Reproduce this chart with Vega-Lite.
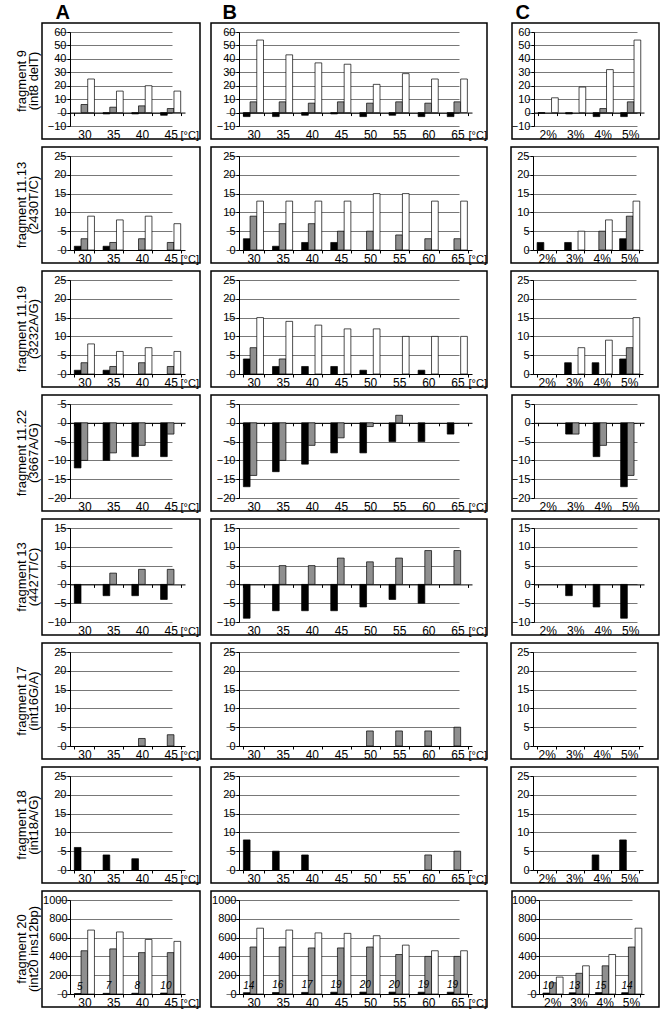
{
"$schema":"https://vega.github.io/schema/vega-lite/v6.json",
"padding":{"left":15,"top":1,"right":0,"bottom":0},
"data":{"name":"d"},
"datasets":{"d":[
{"r":1,"p":"A","c":"30","s":"s2","v":6},{"r":1,"p":"A","c":"30","s":"s3","v":25},
{"r":1,"p":"A","c":"35","s":"s1","v":-1},{"r":1,"p":"A","c":"35","s":"s2","v":4},{"r":1,"p":"A","c":"35","s":"s3","v":16},
{"r":1,"p":"A","c":"40","s":"s1","v":-1},{"r":1,"p":"A","c":"40","s":"s2","v":5},{"r":1,"p":"A","c":"40","s":"s3","v":20},
{"r":1,"p":"A","c":"45","s":"s1","v":-2},{"r":1,"p":"A","c":"45","s":"s2","v":3},{"r":1,"p":"A","c":"45","s":"s3","v":16},
{"r":1,"p":"B","c":"30","s":"s1","v":-3},{"r":1,"p":"B","c":"30","s":"s2","v":8},{"r":1,"p":"B","c":"30","s":"s3","v":54},
{"r":1,"p":"B","c":"35","s":"s1","v":-3},{"r":1,"p":"B","c":"35","s":"s2","v":8},{"r":1,"p":"B","c":"35","s":"s3","v":43},
{"r":1,"p":"B","c":"40","s":"s1","v":-2},{"r":1,"p":"B","c":"40","s":"s2","v":7},{"r":1,"p":"B","c":"40","s":"s3","v":37},
{"r":1,"p":"B","c":"45","s":"s1","v":-1},{"r":1,"p":"B","c":"45","s":"s2","v":8},{"r":1,"p":"B","c":"45","s":"s3","v":36},
{"r":1,"p":"B","c":"50","s":"s1","v":-3},{"r":1,"p":"B","c":"50","s":"s2","v":7},{"r":1,"p":"B","c":"50","s":"s3","v":21},
{"r":1,"p":"B","c":"55","s":"s1","v":-2},{"r":1,"p":"B","c":"55","s":"s2","v":8},{"r":1,"p":"B","c":"55","s":"s3","v":29},
{"r":1,"p":"B","c":"60","s":"s1","v":-3},{"r":1,"p":"B","c":"60","s":"s2","v":7},{"r":1,"p":"B","c":"60","s":"s3","v":25},
{"r":1,"p":"B","c":"65","s":"s1","v":-3},{"r":1,"p":"B","c":"65","s":"s2","v":8},{"r":1,"p":"B","c":"65","s":"s3","v":25},
{"r":1,"p":"C","c":"2%","s":"s1","v":-0.5},{"r":1,"p":"C","c":"2%","s":"s3","v":11},
{"r":1,"p":"C","c":"3%","s":"s1","v":-1},{"r":1,"p":"C","c":"3%","s":"s3","v":19},
{"r":1,"p":"C","c":"4%","s":"s1","v":-3},{"r":1,"p":"C","c":"4%","s":"s2","v":3},{"r":1,"p":"C","c":"4%","s":"s3","v":32},
{"r":1,"p":"C","c":"5%","s":"s1","v":-3},{"r":1,"p":"C","c":"5%","s":"s2","v":8},{"r":1,"p":"C","c":"5%","s":"s3","v":54},
{"r":2,"p":"A","c":"30","s":"s1","v":1},{"r":2,"p":"A","c":"30","s":"s2","v":3},{"r":2,"p":"A","c":"30","s":"s3","v":9},
{"r":2,"p":"A","c":"35","s":"s1","v":1},{"r":2,"p":"A","c":"35","s":"s2","v":2},{"r":2,"p":"A","c":"35","s":"s3","v":8},
{"r":2,"p":"A","c":"40","s":"s2","v":3},{"r":2,"p":"A","c":"40","s":"s3","v":9},
{"r":2,"p":"A","c":"45","s":"s2","v":2},{"r":2,"p":"A","c":"45","s":"s3","v":7},
{"r":2,"p":"B","c":"30","s":"s1","v":3},{"r":2,"p":"B","c":"30","s":"s2","v":9},{"r":2,"p":"B","c":"30","s":"s3","v":13},
{"r":2,"p":"B","c":"35","s":"s1","v":1},{"r":2,"p":"B","c":"35","s":"s2","v":7},{"r":2,"p":"B","c":"35","s":"s3","v":13},
{"r":2,"p":"B","c":"40","s":"s1","v":2},{"r":2,"p":"B","c":"40","s":"s2","v":7},{"r":2,"p":"B","c":"40","s":"s3","v":13},
{"r":2,"p":"B","c":"45","s":"s1","v":2},{"r":2,"p":"B","c":"45","s":"s2","v":5},{"r":2,"p":"B","c":"45","s":"s3","v":13},
{"r":2,"p":"B","c":"50","s":"s2","v":5},{"r":2,"p":"B","c":"50","s":"s3","v":15},
{"r":2,"p":"B","c":"55","s":"s2","v":4},{"r":2,"p":"B","c":"55","s":"s3","v":15},
{"r":2,"p":"B","c":"60","s":"s2","v":3},{"r":2,"p":"B","c":"60","s":"s3","v":13},
{"r":2,"p":"B","c":"65","s":"s2","v":3},{"r":2,"p":"B","c":"65","s":"s3","v":13},
{"r":2,"p":"C","c":"2%","s":"s1","v":2},
{"r":2,"p":"C","c":"3%","s":"s1","v":2},{"r":2,"p":"C","c":"3%","s":"s3","v":5},
{"r":2,"p":"C","c":"4%","s":"s2","v":5},{"r":2,"p":"C","c":"4%","s":"s3","v":8},
{"r":2,"p":"C","c":"5%","s":"s1","v":3},{"r":2,"p":"C","c":"5%","s":"s2","v":9},{"r":2,"p":"C","c":"5%","s":"s3","v":13},
{"r":3,"p":"A","c":"30","s":"s1","v":1},{"r":3,"p":"A","c":"30","s":"s2","v":3},{"r":3,"p":"A","c":"30","s":"s3","v":8},
{"r":3,"p":"A","c":"35","s":"s1","v":1},{"r":3,"p":"A","c":"35","s":"s2","v":2},{"r":3,"p":"A","c":"35","s":"s3","v":6},
{"r":3,"p":"A","c":"40","s":"s2","v":3},{"r":3,"p":"A","c":"40","s":"s3","v":7},
{"r":3,"p":"A","c":"45","s":"s2","v":2},{"r":3,"p":"A","c":"45","s":"s3","v":6},
{"r":3,"p":"B","c":"30","s":"s1","v":4},{"r":3,"p":"B","c":"30","s":"s2","v":7},{"r":3,"p":"B","c":"30","s":"s3","v":15},
{"r":3,"p":"B","c":"35","s":"s1","v":2},{"r":3,"p":"B","c":"35","s":"s2","v":4},{"r":3,"p":"B","c":"35","s":"s3","v":14},
{"r":3,"p":"B","c":"40","s":"s1","v":2},{"r":3,"p":"B","c":"40","s":"s3","v":13},
{"r":3,"p":"B","c":"45","s":"s1","v":2},{"r":3,"p":"B","c":"45","s":"s3","v":12},
{"r":3,"p":"B","c":"50","s":"s1","v":1},{"r":3,"p":"B","c":"50","s":"s3","v":12},
{"r":3,"p":"B","c":"55","s":"s3","v":10},
{"r":3,"p":"B","c":"60","s":"s1","v":1},{"r":3,"p":"B","c":"60","s":"s3","v":10},
{"r":3,"p":"B","c":"65","s":"s3","v":10},
{"r":3,"p":"C","c":"3%","s":"s1","v":3},{"r":3,"p":"C","c":"3%","s":"s3","v":7},
{"r":3,"p":"C","c":"4%","s":"s1","v":3},{"r":3,"p":"C","c":"4%","s":"s3","v":9},
{"r":3,"p":"C","c":"5%","s":"s1","v":4},{"r":3,"p":"C","c":"5%","s":"s2","v":7},{"r":3,"p":"C","c":"5%","s":"s3","v":15},
{"r":4,"p":"A","c":"30","s":"s1","v":-12},{"r":4,"p":"A","c":"30","s":"s2","v":-10},
{"r":4,"p":"A","c":"35","s":"s1","v":-10},{"r":4,"p":"A","c":"35","s":"s2","v":-8},
{"r":4,"p":"A","c":"40","s":"s1","v":-9},{"r":4,"p":"A","c":"40","s":"s2","v":-6},
{"r":4,"p":"A","c":"45","s":"s1","v":-9},{"r":4,"p":"A","c":"45","s":"s2","v":-3},
{"r":4,"p":"B","c":"30","s":"s1","v":-17},{"r":4,"p":"B","c":"30","s":"s2","v":-14},
{"r":4,"p":"B","c":"35","s":"s1","v":-13},{"r":4,"p":"B","c":"35","s":"s2","v":-10},
{"r":4,"p":"B","c":"40","s":"s1","v":-11},{"r":4,"p":"B","c":"40","s":"s2","v":-6},
{"r":4,"p":"B","c":"45","s":"s1","v":-8},{"r":4,"p":"B","c":"45","s":"s2","v":-4},
{"r":4,"p":"B","c":"50","s":"s1","v":-8},{"r":4,"p":"B","c":"50","s":"s2","v":-1},
{"r":4,"p":"B","c":"55","s":"s1","v":-5},{"r":4,"p":"B","c":"55","s":"s2","v":2},
{"r":4,"p":"B","c":"60","s":"s1","v":-5},
{"r":4,"p":"B","c":"65","s":"s1","v":-3},
{"r":4,"p":"C","c":"3%","s":"s1","v":-3},{"r":4,"p":"C","c":"3%","s":"s2","v":-3},
{"r":4,"p":"C","c":"4%","s":"s1","v":-9},{"r":4,"p":"C","c":"4%","s":"s2","v":-6},
{"r":4,"p":"C","c":"5%","s":"s1","v":-17},{"r":4,"p":"C","c":"5%","s":"s2","v":-14},
{"r":5,"p":"A","c":"30","s":"s1","v":-5},
{"r":5,"p":"A","c":"35","s":"s1","v":-3},{"r":5,"p":"A","c":"35","s":"s2","v":3},
{"r":5,"p":"A","c":"40","s":"s1","v":-3},{"r":5,"p":"A","c":"40","s":"s2","v":4},
{"r":5,"p":"A","c":"45","s":"s1","v":-4},{"r":5,"p":"A","c":"45","s":"s2","v":4},
{"r":5,"p":"B","c":"30","s":"s1","v":-9},
{"r":5,"p":"B","c":"35","s":"s1","v":-7},{"r":5,"p":"B","c":"35","s":"s2","v":5},
{"r":5,"p":"B","c":"40","s":"s1","v":-7},{"r":5,"p":"B","c":"40","s":"s2","v":5},
{"r":5,"p":"B","c":"45","s":"s1","v":-7},{"r":5,"p":"B","c":"45","s":"s2","v":7},
{"r":5,"p":"B","c":"50","s":"s1","v":-6},{"r":5,"p":"B","c":"50","s":"s2","v":6},
{"r":5,"p":"B","c":"55","s":"s1","v":-4},{"r":5,"p":"B","c":"55","s":"s2","v":7},
{"r":5,"p":"B","c":"60","s":"s1","v":-5},{"r":5,"p":"B","c":"60","s":"s2","v":9},
{"r":5,"p":"B","c":"65","s":"s2","v":9},
{"r":5,"p":"C","c":"3%","s":"s1","v":-3},
{"r":5,"p":"C","c":"4%","s":"s1","v":-6},
{"r":5,"p":"C","c":"5%","s":"s1","v":-9},
{"r":6,"p":"A","c":"40","s":"s2","v":2},{"r":6,"p":"A","c":"45","s":"s2","v":3},
{"r":6,"p":"B","c":"50","s":"s2","v":4},{"r":6,"p":"B","c":"55","s":"s2","v":4},
{"r":6,"p":"B","c":"60","s":"s2","v":4},{"r":6,"p":"B","c":"65","s":"s2","v":5},
{"r":7,"p":"A","c":"30","s":"s1","v":6},{"r":7,"p":"A","c":"35","s":"s1","v":4},{"r":7,"p":"A","c":"40","s":"s1","v":3},
{"r":7,"p":"B","c":"30","s":"s1","v":8},{"r":7,"p":"B","c":"35","s":"s1","v":5},{"r":7,"p":"B","c":"40","s":"s1","v":4},
{"r":7,"p":"B","c":"60","s":"s2","v":4},{"r":7,"p":"B","c":"65","s":"s2","v":5},
{"r":7,"p":"C","c":"4%","s":"s1","v":4},{"r":7,"p":"C","c":"5%","s":"s1","v":8},
{"r":8,"p":"A","c":"30","s":"s1","v":5},{"r":8,"p":"A","c":"30","s":"s2","v":460},{"r":8,"p":"A","c":"30","s":"s3","v":680},
{"r":8,"p":"A","c":"35","s":"s1","v":7},{"r":8,"p":"A","c":"35","s":"s2","v":480},{"r":8,"p":"A","c":"35","s":"s3","v":660},
{"r":8,"p":"A","c":"40","s":"s1","v":8},{"r":8,"p":"A","c":"40","s":"s2","v":440},{"r":8,"p":"A","c":"40","s":"s3","v":580},
{"r":8,"p":"A","c":"45","s":"s1","v":10},{"r":8,"p":"A","c":"45","s":"s2","v":440},{"r":8,"p":"A","c":"45","s":"s3","v":560},
{"r":8,"p":"B","c":"30","s":"s1","v":14},{"r":8,"p":"B","c":"30","s":"s2","v":500},{"r":8,"p":"B","c":"30","s":"s3","v":700},
{"r":8,"p":"B","c":"35","s":"s1","v":16},{"r":8,"p":"B","c":"35","s":"s2","v":500},{"r":8,"p":"B","c":"35","s":"s3","v":680},
{"r":8,"p":"B","c":"40","s":"s1","v":17},{"r":8,"p":"B","c":"40","s":"s2","v":490},{"r":8,"p":"B","c":"40","s":"s3","v":650},
{"r":8,"p":"B","c":"45","s":"s1","v":19},{"r":8,"p":"B","c":"45","s":"s2","v":490},{"r":8,"p":"B","c":"45","s":"s3","v":645},
{"r":8,"p":"B","c":"50","s":"s1","v":20},{"r":8,"p":"B","c":"50","s":"s2","v":500},{"r":8,"p":"B","c":"50","s":"s3","v":620},
{"r":8,"p":"B","c":"55","s":"s1","v":20},{"r":8,"p":"B","c":"55","s":"s2","v":420},{"r":8,"p":"B","c":"55","s":"s3","v":520},
{"r":8,"p":"B","c":"60","s":"s1","v":19},{"r":8,"p":"B","c":"60","s":"s2","v":400},{"r":8,"p":"B","c":"60","s":"s3","v":460},
{"r":8,"p":"B","c":"65","s":"s1","v":19},{"r":8,"p":"B","c":"65","s":"s2","v":400},{"r":8,"p":"B","c":"65","s":"s3","v":460},
{"r":8,"p":"C","c":"2%","s":"s1","v":10},{"r":8,"p":"C","c":"2%","s":"s2","v":120},{"r":8,"p":"C","c":"2%","s":"s3","v":180},
{"r":8,"p":"C","c":"3%","s":"s1","v":13},{"r":8,"p":"C","c":"3%","s":"s2","v":220},{"r":8,"p":"C","c":"3%","s":"s3","v":300},
{"r":8,"p":"C","c":"4%","s":"s1","v":15},{"r":8,"p":"C","c":"4%","s":"s2","v":300},{"r":8,"p":"C","c":"4%","s":"s3","v":420},
{"r":8,"p":"C","c":"5%","s":"s1","v":14},{"r":8,"p":"C","c":"5%","s":"s2","v":500},{"r":8,"p":"C","c":"5%","s":"s3","v":700}
]},
"spacing":5,
"vconcat":[
{"spacing":22,"hconcat":[{"spacing":9,"hconcat":[
  {"width":158,"height":116,"title":{"text":["fragment 9","(int8 delT)"]},"transform":[{"filter":"datum.r==1&&datum.p=='A'"}],
   "encoding":{"x":{"field":"c","type":"nominal","scale":{"domain":["30","35","40","45"],"range":[28,143],"paddingInner":0.3,"paddingOuter":0.15},"axis":{"offset":-26.43,"labelPadding":13.43,"title":"[°C]","titleX":138,"titleY":16.43}},"xOffset":{"field":"s","type":"nominal","scale":{"domain":["s1","s2","s3"]}}},
   "layer":[{"mark":"bar","encoding":{"y":{"field":"v","type":"quantitative","scale":{"domain":[-10,60],"range":[103,9],"nice":false},"axis":{"values":[-10,0,10,20,30,40,50,60],"title":null}},"fill":{"field":"s","type":"nominal","scale":{"domain":["s1","s2","s3"],"range":["#000000","#8f8f8f","#ffffff"]},"legend":null}}},
    {"transform":[{"filter":"datum.r==8&&datum.s=='s1'"}],"mark":"text","encoding":{"x":{"field":"c","type":"nominal","scale":{"domain":["30","35","40","45"],"range":[28,143],"paddingInner":0.3,"paddingOuter":0.15},"axis":{"orient":"top","title":"A","titleX":13,"titleY":-5}},"y":{"field":"v","type":"quantitative","scale":{"domain":[-10,60],"range":[103,9],"nice":false},"axis":{"orient":"right","title":null,"grid":true,"values":[-10,0,10,20,30,40,50,60]}},"text":{"field":"v"}}}],
   "resolve":{"axis":{"y":"independent","x":"independent"}}},
  {"width":276,"height":116,"transform":[{"filter":"datum.r==1&&datum.p=='B'"}],
   "encoding":{"x":{"field":"c","type":"nominal","scale":{"domain":["30","35","40","45","50","55","60","65"],"range":[28,261],"paddingInner":0.3,"paddingOuter":0.15},"axis":{"offset":-26.43,"labelPadding":13.43,"title":"[°C]","titleX":257,"titleY":16.43}},"xOffset":{"field":"s","type":"nominal","scale":{"domain":["s1","s2","s3"]}}},
   "layer":[{"mark":"bar","encoding":{"y":{"field":"v","type":"quantitative","scale":{"domain":[-10,60],"range":[103,9],"nice":false},"axis":{"values":[-10,0,10,20,30,40,50,60],"title":null}},"fill":{"field":"s","type":"nominal","scale":{"domain":["s1","s2","s3"],"range":["#000000","#8f8f8f","#ffffff"]},"legend":null}}},
    {"transform":[{"filter":"datum.r==8&&datum.s=='s1'"}],"mark":"text","encoding":{"x":{"field":"c","type":"nominal","scale":{"domain":["30","35","40","45","50","55","60","65"],"range":[28,261],"paddingInner":0.3,"paddingOuter":0.15},"axis":{"orient":"top","title":"B","titleX":11,"titleY":-5}},"y":{"field":"v","type":"quantitative","scale":{"domain":[-10,60],"range":[103,9],"nice":false},"axis":{"orient":"right","title":null,"grid":true,"values":[-10,0,10,20,30,40,50,60]}},"text":{"field":"v"}}}],
   "resolve":{"axis":{"y":"independent","x":"independent"}}}]},
  {"width":147,"height":116,"transform":[{"filter":"datum.r==1&&datum.p=='C'"}],
   "encoding":{"x":{"field":"c","type":"nominal","scale":{"domain":["2%","3%","4%","5%"],"range":[22,132],"paddingInner":0.3,"paddingOuter":0.15},"axis":{"offset":-26.43,"labelPadding":13.43,"title":null}},"xOffset":{"field":"s","type":"nominal","scale":{"domain":["s1","s2","s3"]}}},
   "layer":[{"mark":"bar","encoding":{"y":{"field":"v","type":"quantitative","scale":{"domain":[-10,60],"range":[103,9],"nice":false},"axis":{"values":[-10,0,10,20,30,40,50,60],"title":null,"offset":-22}},"fill":{"field":"s","type":"nominal","scale":{"domain":["s1","s2","s3"],"range":["#000000","#8f8f8f","#ffffff"]},"legend":null}}},
    {"transform":[{"filter":"datum.r==8&&datum.s=='s1'"}],"mark":"text","encoding":{"x":{"field":"c","type":"nominal","scale":{"domain":["2%","3%","4%","5%"],"range":[22,132],"paddingInner":0.3,"paddingOuter":0.15},"axis":{"orient":"top","title":"C","titleX":3,"titleY":-5}},"y":{"field":"v","type":"quantitative","scale":{"domain":[-10,60],"range":[103,9],"nice":false},"axis":{"orient":"right","title":null,"grid":true,"values":[-10,0,10,20,30,40,50,60]}},"text":{"field":"v"}}}],
   "resolve":{"axis":{"y":"independent","x":"independent"}}}]},

{"spacing":22,"hconcat":[{"spacing":9,"hconcat":[
  {"width":158,"height":116,"title":{"text":["fragment 11.13","(2430T/C)"]},"transform":[{"filter":"datum.r==2&&datum.p=='A'"}],
   "encoding":{"x":{"field":"c","type":"nominal","scale":{"domain":["30","35","40","45"],"range":[28,143],"paddingInner":0.3,"paddingOuter":0.15},"axis":{"offset":-13,"labelPadding":0,"title":"[°C]","titleX":138,"titleY":3}},"xOffset":{"field":"s","type":"nominal","scale":{"domain":["s1","s2","s3"]}}},
   "layer":[{"mark":"bar","encoding":{"y":{"field":"v","type":"quantitative","scale":{"domain":[0,25],"range":[103,9],"nice":false},"axis":{"values":[0,5,10,15,20,25],"title":null}},"fill":{"field":"s","type":"nominal","scale":{"domain":["s1","s2","s3"],"range":["#000000","#8f8f8f","#ffffff"]},"legend":null}}},
    {"transform":[{"filter":"datum.r==8&&datum.s=='s1'"}],"mark":"text","encoding":{"y":{"field":"v","type":"quantitative","scale":{"domain":[0,25],"range":[103,9],"nice":false},"axis":{"orient":"right","title":null,"grid":true,"values":[0,5,10,15,20,25]}},"text":{"field":"v"}}}],
   "resolve":{"axis":{"y":"independent"}}},
  {"width":276,"height":116,"transform":[{"filter":"datum.r==2&&datum.p=='B'"}],
   "encoding":{"x":{"field":"c","type":"nominal","scale":{"domain":["30","35","40","45","50","55","60","65"],"range":[28,261],"paddingInner":0.3,"paddingOuter":0.15},"axis":{"offset":-13,"labelPadding":0,"title":"[°C]","titleX":257,"titleY":3}},"xOffset":{"field":"s","type":"nominal","scale":{"domain":["s1","s2","s3"]}}},
   "layer":[{"mark":"bar","encoding":{"y":{"field":"v","type":"quantitative","scale":{"domain":[0,25],"range":[103,9],"nice":false},"axis":{"values":[0,5,10,15,20,25],"title":null}},"fill":{"field":"s","type":"nominal","scale":{"domain":["s1","s2","s3"],"range":["#000000","#8f8f8f","#ffffff"]},"legend":null}}},
    {"transform":[{"filter":"datum.r==8&&datum.s=='s1'"}],"mark":"text","encoding":{"y":{"field":"v","type":"quantitative","scale":{"domain":[0,25],"range":[103,9],"nice":false},"axis":{"orient":"right","title":null,"grid":true,"values":[0,5,10,15,20,25]}},"text":{"field":"v"}}}],
   "resolve":{"axis":{"y":"independent"}}}]},
  {"width":147,"height":116,"transform":[{"filter":"datum.r==2&&datum.p=='C'"}],
   "encoding":{"x":{"field":"c","type":"nominal","scale":{"domain":["2%","3%","4%","5%"],"range":[22,132],"paddingInner":0.3,"paddingOuter":0.15},"axis":{"offset":-13,"labelPadding":0,"title":null}},"xOffset":{"field":"s","type":"nominal","scale":{"domain":["s1","s2","s3"]}}},
   "layer":[{"mark":"bar","encoding":{"y":{"field":"v","type":"quantitative","scale":{"domain":[0,25],"range":[103,9],"nice":false},"axis":{"values":[0,5,10,15,20,25],"title":null,"offset":-22}},"fill":{"field":"s","type":"nominal","scale":{"domain":["s1","s2","s3"],"range":["#000000","#8f8f8f","#ffffff"]},"legend":null}}},
    {"transform":[{"filter":"datum.r==8&&datum.s=='s1'"}],"mark":"text","encoding":{"y":{"field":"v","type":"quantitative","scale":{"domain":[0,25],"range":[103,9],"nice":false},"axis":{"orient":"right","title":null,"grid":true,"values":[0,5,10,15,20,25]}},"text":{"field":"v"}}}],
   "resolve":{"axis":{"y":"independent"}}}]},

{"spacing":22,"hconcat":[{"spacing":9,"hconcat":[
  {"width":158,"height":116,"title":{"text":["fragment 11.19","(3232A/G)"]},"transform":[{"filter":"datum.r==3&&datum.p=='A'"}],
   "encoding":{"x":{"field":"c","type":"nominal","scale":{"domain":["30","35","40","45"],"range":[28,143],"paddingInner":0.3,"paddingOuter":0.15},"axis":{"offset":-13,"labelPadding":0,"title":"[°C]","titleX":138,"titleY":3}},"xOffset":{"field":"s","type":"nominal","scale":{"domain":["s1","s2","s3"]}}},
   "layer":[{"mark":"bar","encoding":{"y":{"field":"v","type":"quantitative","scale":{"domain":[0,25],"range":[103,9],"nice":false},"axis":{"values":[0,5,10,15,20,25],"title":null}},"fill":{"field":"s","type":"nominal","scale":{"domain":["s1","s2","s3"],"range":["#000000","#8f8f8f","#ffffff"]},"legend":null}}},
    {"transform":[{"filter":"datum.r==8&&datum.s=='s1'"}],"mark":"text","encoding":{"y":{"field":"v","type":"quantitative","scale":{"domain":[0,25],"range":[103,9],"nice":false},"axis":{"orient":"right","title":null,"grid":true,"values":[0,5,10,15,20,25]}},"text":{"field":"v"}}}],
   "resolve":{"axis":{"y":"independent"}}},
  {"width":276,"height":116,"transform":[{"filter":"datum.r==3&&datum.p=='B'"}],
   "encoding":{"x":{"field":"c","type":"nominal","scale":{"domain":["30","35","40","45","50","55","60","65"],"range":[28,261],"paddingInner":0.3,"paddingOuter":0.15},"axis":{"offset":-13,"labelPadding":0,"title":"[°C]","titleX":257,"titleY":3}},"xOffset":{"field":"s","type":"nominal","scale":{"domain":["s1","s2","s3"]}}},
   "layer":[{"mark":"bar","encoding":{"y":{"field":"v","type":"quantitative","scale":{"domain":[0,25],"range":[103,9],"nice":false},"axis":{"values":[0,5,10,15,20,25],"title":null}},"fill":{"field":"s","type":"nominal","scale":{"domain":["s1","s2","s3"],"range":["#000000","#8f8f8f","#ffffff"]},"legend":null}}},
    {"transform":[{"filter":"datum.r==8&&datum.s=='s1'"}],"mark":"text","encoding":{"y":{"field":"v","type":"quantitative","scale":{"domain":[0,25],"range":[103,9],"nice":false},"axis":{"orient":"right","title":null,"grid":true,"values":[0,5,10,15,20,25]}},"text":{"field":"v"}}}],
   "resolve":{"axis":{"y":"independent"}}}]},
  {"width":147,"height":116,"transform":[{"filter":"datum.r==3&&datum.p=='C'"}],
   "encoding":{"x":{"field":"c","type":"nominal","scale":{"domain":["2%","3%","4%","5%"],"range":[22,132],"paddingInner":0.3,"paddingOuter":0.15},"axis":{"offset":-13,"labelPadding":0,"title":null}},"xOffset":{"field":"s","type":"nominal","scale":{"domain":["s1","s2","s3"]}}},
   "layer":[{"mark":"bar","encoding":{"y":{"field":"v","type":"quantitative","scale":{"domain":[0,25],"range":[103,9],"nice":false},"axis":{"values":[0,5,10,15,20,25],"title":null,"offset":-22}},"fill":{"field":"s","type":"nominal","scale":{"domain":["s1","s2","s3"],"range":["#000000","#8f8f8f","#ffffff"]},"legend":null}}},
    {"transform":[{"filter":"datum.r==8&&datum.s=='s1'"}],"mark":"text","encoding":{"y":{"field":"v","type":"quantitative","scale":{"domain":[0,25],"range":[103,9],"nice":false},"axis":{"orient":"right","title":null,"grid":true,"values":[0,5,10,15,20,25]}},"text":{"field":"v"}}}],
   "resolve":{"axis":{"y":"independent"}}}]},

{"spacing":22,"hconcat":[{"spacing":9,"hconcat":[
  {"width":158,"height":116,"title":{"text":["fragment 11.22","(3667A/G)"]},"transform":[{"filter":"datum.r==4&&datum.p=='A'"}],
   "encoding":{"x":{"field":"c","type":"nominal","scale":{"domain":["30","35","40","45"],"range":[28,143],"paddingInner":0.3,"paddingOuter":0.15},"axis":{"offset":-88.2,"labelPadding":75.2,"title":"[°C]","titleX":138,"titleY":78.2}},"xOffset":{"field":"s","type":"nominal","scale":{"domain":["s1","s2","s3"]}}},
   "layer":[{"mark":"bar","encoding":{"y":{"field":"v","type":"quantitative","scale":{"domain":[-20,5],"range":[103,9],"nice":false},"axis":{"values":[-20,-15,-10,-5,0,5],"title":null}},"fill":{"field":"s","type":"nominal","scale":{"domain":["s1","s2","s3"],"range":["#000000","#8f8f8f","#ffffff"]},"legend":null}}},
    {"transform":[{"filter":"datum.r==8&&datum.s=='s1'"}],"mark":"text","encoding":{"y":{"field":"v","type":"quantitative","scale":{"domain":[-20,5],"range":[103,9],"nice":false},"axis":{"orient":"right","title":null,"grid":true,"values":[-20,-15,-10,-5,0,5]}},"text":{"field":"v"}}}],
   "resolve":{"axis":{"y":"independent"}}},
  {"width":276,"height":116,"transform":[{"filter":"datum.r==4&&datum.p=='B'"}],
   "encoding":{"x":{"field":"c","type":"nominal","scale":{"domain":["30","35","40","45","50","55","60","65"],"range":[28,261],"paddingInner":0.3,"paddingOuter":0.15},"axis":{"offset":-88.2,"labelPadding":75.2,"title":"[°C]","titleX":257,"titleY":78.2}},"xOffset":{"field":"s","type":"nominal","scale":{"domain":["s1","s2","s3"]}}},
   "layer":[{"mark":"bar","encoding":{"y":{"field":"v","type":"quantitative","scale":{"domain":[-20,5],"range":[103,9],"nice":false},"axis":{"values":[-20,-15,-10,-5,0,5],"title":null}},"fill":{"field":"s","type":"nominal","scale":{"domain":["s1","s2","s3"],"range":["#000000","#8f8f8f","#ffffff"]},"legend":null}}},
    {"transform":[{"filter":"datum.r==8&&datum.s=='s1'"}],"mark":"text","encoding":{"y":{"field":"v","type":"quantitative","scale":{"domain":[-20,5],"range":[103,9],"nice":false},"axis":{"orient":"right","title":null,"grid":true,"values":[-20,-15,-10,-5,0,5]}},"text":{"field":"v"}}}],
   "resolve":{"axis":{"y":"independent"}}}]},
  {"width":147,"height":116,"transform":[{"filter":"datum.r==4&&datum.p=='C'"}],
   "encoding":{"x":{"field":"c","type":"nominal","scale":{"domain":["2%","3%","4%","5%"],"range":[22,132],"paddingInner":0.3,"paddingOuter":0.15},"axis":{"offset":-88.2,"labelPadding":75.2,"title":null}},"xOffset":{"field":"s","type":"nominal","scale":{"domain":["s1","s2","s3"]}}},
   "layer":[{"mark":"bar","encoding":{"y":{"field":"v","type":"quantitative","scale":{"domain":[-20,5],"range":[103,9],"nice":false},"axis":{"values":[-20,-15,-10,-5,0,5],"title":null,"offset":-22}},"fill":{"field":"s","type":"nominal","scale":{"domain":["s1","s2","s3"],"range":["#000000","#8f8f8f","#ffffff"]},"legend":null}}},
    {"transform":[{"filter":"datum.r==8&&datum.s=='s1'"}],"mark":"text","encoding":{"y":{"field":"v","type":"quantitative","scale":{"domain":[-20,5],"range":[103,9],"nice":false},"axis":{"orient":"right","title":null,"grid":true,"values":[-20,-15,-10,-5,0,5]}},"text":{"field":"v"}}}],
   "resolve":{"axis":{"y":"independent"}}}]},

{"spacing":22,"hconcat":[{"spacing":9,"hconcat":[
  {"width":158,"height":116,"title":{"text":["fragment 13","(4427T/C)"]},"transform":[{"filter":"datum.r==5&&datum.p=='A'"}],
   "encoding":{"x":{"field":"c","type":"nominal","scale":{"domain":["30","35","40","45"],"range":[28,143],"paddingInner":0.3,"paddingOuter":0.15},"axis":{"offset":-50.6,"labelPadding":37.6,"title":"[°C]","titleX":138,"titleY":40.6}},"xOffset":{"field":"s","type":"nominal","scale":{"domain":["s1","s2","s3"]}}},
   "layer":[{"mark":"bar","encoding":{"y":{"field":"v","type":"quantitative","scale":{"domain":[-10,15],"range":[103,9],"nice":false},"axis":{"values":[-10,-5,0,5,10,15],"title":null}},"fill":{"field":"s","type":"nominal","scale":{"domain":["s1","s2","s3"],"range":["#000000","#8f8f8f","#ffffff"]},"legend":null}}},
    {"transform":[{"filter":"datum.r==8&&datum.s=='s1'"}],"mark":"text","encoding":{"y":{"field":"v","type":"quantitative","scale":{"domain":[-10,15],"range":[103,9],"nice":false},"axis":{"orient":"right","title":null,"grid":true,"values":[-10,-5,0,5,10,15]}},"text":{"field":"v"}}}],
   "resolve":{"axis":{"y":"independent"}}},
  {"width":276,"height":116,"transform":[{"filter":"datum.r==5&&datum.p=='B'"}],
   "encoding":{"x":{"field":"c","type":"nominal","scale":{"domain":["30","35","40","45","50","55","60","65"],"range":[28,261],"paddingInner":0.3,"paddingOuter":0.15},"axis":{"offset":-50.6,"labelPadding":37.6,"title":"[°C]","titleX":257,"titleY":40.6}},"xOffset":{"field":"s","type":"nominal","scale":{"domain":["s1","s2","s3"]}}},
   "layer":[{"mark":"bar","encoding":{"y":{"field":"v","type":"quantitative","scale":{"domain":[-10,15],"range":[103,9],"nice":false},"axis":{"values":[-10,-5,0,5,10,15],"title":null}},"fill":{"field":"s","type":"nominal","scale":{"domain":["s1","s2","s3"],"range":["#000000","#8f8f8f","#ffffff"]},"legend":null}}},
    {"transform":[{"filter":"datum.r==8&&datum.s=='s1'"}],"mark":"text","encoding":{"y":{"field":"v","type":"quantitative","scale":{"domain":[-10,15],"range":[103,9],"nice":false},"axis":{"orient":"right","title":null,"grid":true,"values":[-10,-5,0,5,10,15]}},"text":{"field":"v"}}}],
   "resolve":{"axis":{"y":"independent"}}}]},
  {"width":147,"height":116,"transform":[{"filter":"datum.r==5&&datum.p=='C'"}],
   "encoding":{"x":{"field":"c","type":"nominal","scale":{"domain":["2%","3%","4%","5%"],"range":[22,132],"paddingInner":0.3,"paddingOuter":0.15},"axis":{"offset":-50.6,"labelPadding":37.6,"title":null}},"xOffset":{"field":"s","type":"nominal","scale":{"domain":["s1","s2","s3"]}}},
   "layer":[{"mark":"bar","encoding":{"y":{"field":"v","type":"quantitative","scale":{"domain":[-10,15],"range":[103,9],"nice":false},"axis":{"values":[-10,-5,0,5,10,15],"title":null,"offset":-22}},"fill":{"field":"s","type":"nominal","scale":{"domain":["s1","s2","s3"],"range":["#000000","#8f8f8f","#ffffff"]},"legend":null}}},
    {"transform":[{"filter":"datum.r==8&&datum.s=='s1'"}],"mark":"text","encoding":{"y":{"field":"v","type":"quantitative","scale":{"domain":[-10,15],"range":[103,9],"nice":false},"axis":{"orient":"right","title":null,"grid":true,"values":[-10,-5,0,5,10,15]}},"text":{"field":"v"}}}],
   "resolve":{"axis":{"y":"independent"}}}]},

{"spacing":22,"hconcat":[{"spacing":9,"hconcat":[
  {"width":158,"height":116,"title":{"text":["fragment 17","(int16G/A)"]},"transform":[{"filter":"datum.r==6&&datum.p=='A'"}],
   "encoding":{"x":{"field":"c","type":"nominal","scale":{"domain":["30","35","40","45"],"range":[28,143],"paddingInner":0.3,"paddingOuter":0.15},"axis":{"offset":-13,"labelPadding":0,"title":"[°C]","titleX":138,"titleY":3}},"xOffset":{"field":"s","type":"nominal","scale":{"domain":["s1","s2","s3"]}}},
   "layer":[{"mark":"bar","encoding":{"y":{"field":"v","type":"quantitative","scale":{"domain":[0,25],"range":[103,9],"nice":false},"axis":{"values":[0,5,10,15,20,25],"title":null}},"fill":{"field":"s","type":"nominal","scale":{"domain":["s1","s2","s3"],"range":["#000000","#8f8f8f","#ffffff"]},"legend":null}}},
    {"transform":[{"filter":"datum.r==8&&datum.s=='s1'"}],"mark":"text","encoding":{"y":{"field":"v","type":"quantitative","scale":{"domain":[0,25],"range":[103,9],"nice":false},"axis":{"orient":"right","title":null,"grid":true,"values":[0,5,10,15,20,25]}},"text":{"field":"v"}}}],
   "resolve":{"axis":{"y":"independent"}}},
  {"width":276,"height":116,"transform":[{"filter":"datum.r==6&&datum.p=='B'"}],
   "encoding":{"x":{"field":"c","type":"nominal","scale":{"domain":["30","35","40","45","50","55","60","65"],"range":[28,261],"paddingInner":0.3,"paddingOuter":0.15},"axis":{"offset":-13,"labelPadding":0,"title":"[°C]","titleX":257,"titleY":3}},"xOffset":{"field":"s","type":"nominal","scale":{"domain":["s1","s2","s3"]}}},
   "layer":[{"mark":"bar","encoding":{"y":{"field":"v","type":"quantitative","scale":{"domain":[0,25],"range":[103,9],"nice":false},"axis":{"values":[0,5,10,15,20,25],"title":null}},"fill":{"field":"s","type":"nominal","scale":{"domain":["s1","s2","s3"],"range":["#000000","#8f8f8f","#ffffff"]},"legend":null}}},
    {"transform":[{"filter":"datum.r==8&&datum.s=='s1'"}],"mark":"text","encoding":{"y":{"field":"v","type":"quantitative","scale":{"domain":[0,25],"range":[103,9],"nice":false},"axis":{"orient":"right","title":null,"grid":true,"values":[0,5,10,15,20,25]}},"text":{"field":"v"}}}],
   "resolve":{"axis":{"y":"independent"}}}]},
  {"width":147,"height":116,"transform":[{"filter":"datum.r==6&&datum.p=='C'"}],
   "encoding":{"x":{"field":"c","type":"nominal","scale":{"domain":["2%","3%","4%","5%"],"range":[22,132],"paddingInner":0.3,"paddingOuter":0.15},"axis":{"offset":-13,"labelPadding":0,"title":null}},"xOffset":{"field":"s","type":"nominal","scale":{"domain":["s1","s2","s3"]}}},
   "layer":[{"mark":"bar","encoding":{"y":{"field":"v","type":"quantitative","scale":{"domain":[0,25],"range":[103,9],"nice":false},"axis":{"values":[0,5,10,15,20,25],"title":null,"offset":-22}},"fill":{"field":"s","type":"nominal","scale":{"domain":["s1","s2","s3"],"range":["#000000","#8f8f8f","#ffffff"]},"legend":null}}},
    {"transform":[{"filter":"datum.r==8&&datum.s=='s1'"}],"mark":"text","encoding":{"y":{"field":"v","type":"quantitative","scale":{"domain":[0,25],"range":[103,9],"nice":false},"axis":{"orient":"right","title":null,"grid":true,"values":[0,5,10,15,20,25]}},"text":{"field":"v"}}}],
   "resolve":{"axis":{"y":"independent"}}}]},

{"spacing":22,"hconcat":[{"spacing":9,"hconcat":[
  {"width":158,"height":116,"title":{"text":["fragment 18","(int18A/G)"]},"transform":[{"filter":"datum.r==7&&datum.p=='A'"}],
   "encoding":{"x":{"field":"c","type":"nominal","scale":{"domain":["30","35","40","45"],"range":[28,143],"paddingInner":0.3,"paddingOuter":0.15},"axis":{"offset":-13,"labelPadding":0,"title":"[°C]","titleX":138,"titleY":3}},"xOffset":{"field":"s","type":"nominal","scale":{"domain":["s1","s2","s3"]}}},
   "layer":[{"mark":"bar","encoding":{"y":{"field":"v","type":"quantitative","scale":{"domain":[0,25],"range":[103,9],"nice":false},"axis":{"values":[0,5,10,15,20,25],"title":null}},"fill":{"field":"s","type":"nominal","scale":{"domain":["s1","s2","s3"],"range":["#000000","#8f8f8f","#ffffff"]},"legend":null}}},
    {"transform":[{"filter":"datum.r==8&&datum.s=='s1'"}],"mark":"text","encoding":{"y":{"field":"v","type":"quantitative","scale":{"domain":[0,25],"range":[103,9],"nice":false},"axis":{"orient":"right","title":null,"grid":true,"values":[0,5,10,15,20,25]}},"text":{"field":"v"}}}],
   "resolve":{"axis":{"y":"independent"}}},
  {"width":276,"height":116,"transform":[{"filter":"datum.r==7&&datum.p=='B'"}],
   "encoding":{"x":{"field":"c","type":"nominal","scale":{"domain":["30","35","40","45","50","55","60","65"],"range":[28,261],"paddingInner":0.3,"paddingOuter":0.15},"axis":{"offset":-13,"labelPadding":0,"title":"[°C]","titleX":257,"titleY":3}},"xOffset":{"field":"s","type":"nominal","scale":{"domain":["s1","s2","s3"]}}},
   "layer":[{"mark":"bar","encoding":{"y":{"field":"v","type":"quantitative","scale":{"domain":[0,25],"range":[103,9],"nice":false},"axis":{"values":[0,5,10,15,20,25],"title":null}},"fill":{"field":"s","type":"nominal","scale":{"domain":["s1","s2","s3"],"range":["#000000","#8f8f8f","#ffffff"]},"legend":null}}},
    {"transform":[{"filter":"datum.r==8&&datum.s=='s1'"}],"mark":"text","encoding":{"y":{"field":"v","type":"quantitative","scale":{"domain":[0,25],"range":[103,9],"nice":false},"axis":{"orient":"right","title":null,"grid":true,"values":[0,5,10,15,20,25]}},"text":{"field":"v"}}}],
   "resolve":{"axis":{"y":"independent"}}}]},
  {"width":147,"height":116,"transform":[{"filter":"datum.r==7&&datum.p=='C'"}],
   "encoding":{"x":{"field":"c","type":"nominal","scale":{"domain":["2%","3%","4%","5%"],"range":[22,132],"paddingInner":0.3,"paddingOuter":0.15},"axis":{"offset":-13,"labelPadding":0,"title":null}},"xOffset":{"field":"s","type":"nominal","scale":{"domain":["s1","s2","s3"]}}},
   "layer":[{"mark":"bar","encoding":{"y":{"field":"v","type":"quantitative","scale":{"domain":[0,25],"range":[103,9],"nice":false},"axis":{"values":[0,5,10,15,20,25],"title":null,"offset":-22}},"fill":{"field":"s","type":"nominal","scale":{"domain":["s1","s2","s3"],"range":["#000000","#8f8f8f","#ffffff"]},"legend":null}}},
    {"transform":[{"filter":"datum.r==8&&datum.s=='s1'"}],"mark":"text","encoding":{"y":{"field":"v","type":"quantitative","scale":{"domain":[0,25],"range":[103,9],"nice":false},"axis":{"orient":"right","title":null,"grid":true,"values":[0,5,10,15,20,25]}},"text":{"field":"v"}}}],
   "resolve":{"axis":{"y":"independent"}}}]},

{"spacing":22,"hconcat":[{"spacing":9,"hconcat":[
  {"width":158,"height":116,"title":{"text":["fragment 20","(int20 ins12bp)"]},"transform":[{"filter":"datum.r==8&&datum.p=='A'"}],
   "encoding":{"x":{"field":"c","type":"nominal","scale":{"domain":["30","35","40","45"],"range":[28,143],"paddingInner":0.3,"paddingOuter":0.15},"axis":{"offset":-13,"labelPadding":0,"title":"[°C]","titleX":138,"titleY":3}},"xOffset":{"field":"s","type":"nominal","scale":{"domain":["s1","s2","s3"]}}},
   "layer":[{"mark":"bar","encoding":{"y":{"field":"v","type":"quantitative","scale":{"domain":[0,1000],"range":[103,9],"nice":false},"axis":{"values":[0,200,400,600,800,1000],"format":"d","title":null,"labelPadding":0}},"fill":{"field":"s","type":"nominal","scale":{"domain":["s1","s2","s3"],"range":["#000000","#8f8f8f","#ffffff"]},"legend":null}}},
    {"transform":[{"filter":"datum.r==8&&datum.s=='s1'"}],"mark":"text","encoding":{"y":{"field":"v","type":"quantitative","scale":{"domain":[0,1000],"range":[103,9],"nice":false},"axis":{"orient":"right","title":null,"grid":true,"values":[0,200,400,600,800,1000]}},"text":{"field":"v"}}}],
   "resolve":{"axis":{"y":"independent"}}},
  {"width":276,"height":116,"transform":[{"filter":"datum.r==8&&datum.p=='B'"}],
   "encoding":{"x":{"field":"c","type":"nominal","scale":{"domain":["30","35","40","45","50","55","60","65"],"range":[28,261],"paddingInner":0.3,"paddingOuter":0.15},"axis":{"offset":-13,"labelPadding":0,"title":"[°C]","titleX":257,"titleY":3}},"xOffset":{"field":"s","type":"nominal","scale":{"domain":["s1","s2","s3"]}}},
   "layer":[{"mark":"bar","encoding":{"y":{"field":"v","type":"quantitative","scale":{"domain":[0,1000],"range":[103,9],"nice":false},"axis":{"values":[0,200,400,600,800,1000],"format":"d","title":null,"labelPadding":0}},"fill":{"field":"s","type":"nominal","scale":{"domain":["s1","s2","s3"],"range":["#000000","#8f8f8f","#ffffff"]},"legend":null}}},
    {"transform":[{"filter":"datum.r==8&&datum.s=='s1'"}],"mark":"text","encoding":{"y":{"field":"v","type":"quantitative","scale":{"domain":[0,1000],"range":[103,9],"nice":false},"axis":{"orient":"right","title":null,"grid":true,"values":[0,200,400,600,800,1000]}},"text":{"field":"v"}}}],
   "resolve":{"axis":{"y":"independent"}}}]},
  {"width":147,"height":116,"transform":[{"filter":"datum.r==8&&datum.p=='C'"}],
   "encoding":{"x":{"field":"c","type":"nominal","scale":{"domain":["2%","3%","4%","5%"],"range":[27,132],"paddingInner":0.3,"paddingOuter":0.15},"axis":{"offset":-13,"labelPadding":0,"title":null}},"xOffset":{"field":"s","type":"nominal","scale":{"domain":["s1","s2","s3"]}}},
   "layer":[{"mark":"bar","encoding":{"y":{"field":"v","type":"quantitative","scale":{"domain":[0,1000],"range":[103,9],"nice":false},"axis":{"values":[0,200,400,600,800,1000],"format":"d","title":null,"offset":-27,"labelPadding":0}},"fill":{"field":"s","type":"nominal","scale":{"domain":["s1","s2","s3"],"range":["#000000","#8f8f8f","#ffffff"]},"legend":null}}},
    {"transform":[{"filter":"datum.r==8&&datum.s=='s1'"}],"mark":"text","encoding":{"y":{"field":"v","type":"quantitative","scale":{"domain":[0,1000],"range":[103,9],"nice":false},"axis":{"orient":"right","title":null,"grid":true,"values":[0,200,400,600,800,1000]}},"text":{"field":"v"}}}],
   "resolve":{"axis":{"y":"independent"}}}]}
],
"config":{
 "view":{"stroke":"black","strokeWidth":1.5},
 "font":"Liberation Sans",
 "title":{"font":"Liberation Sans","fontSize":13,"fontWeight":"normal","color":"black","orient":"left","frame":"group","anchor":"middle","lineHeight":12,"offset":1},
 "bar":{"stroke":"black","strokeWidth":0.7},
 "text":{"color":"black","fontStyle":"italic","fontSize":10,"baseline":"bottom","dy":-2,"dx":2},
 "axis":{"labelFont":"Liberation Sans","labelColor":"black","domainColor":"black","tickColor":"black","titleFont":"Liberation Sans","titleColor":"black","minExtent":0},
 "axisBottom":{"labelAngle":0,"labelBaseline":"top","labelFontSize":12,"tickBand":"extent","tickSize":3,"grid":false,"domainWidth":1,"titleFontSize":11,"titleFontWeight":"normal","titleAlign":"left","titleBaseline":"top","titleAngle":0},
 "axisTop":{"labels":false,"ticks":false,"domain":false,"grid":false,"titleFontSize":20,"titleFontWeight":"bold","titleAlign":"left","titleBaseline":"alphabetic","titleAngle":0},
 "axisLeft":{"grid":false,"tickSize":3,"labelPadding":1,"labelFontSize":11,"domainWidth":1,"offset":-28,"minExtent":0},
 "axisRight":{"labels":false,"ticks":false,"domain":false,"grid":true,"gridColor":"#555555","gridWidth":0.8,"offset":0,"minExtent":0}
}
}
